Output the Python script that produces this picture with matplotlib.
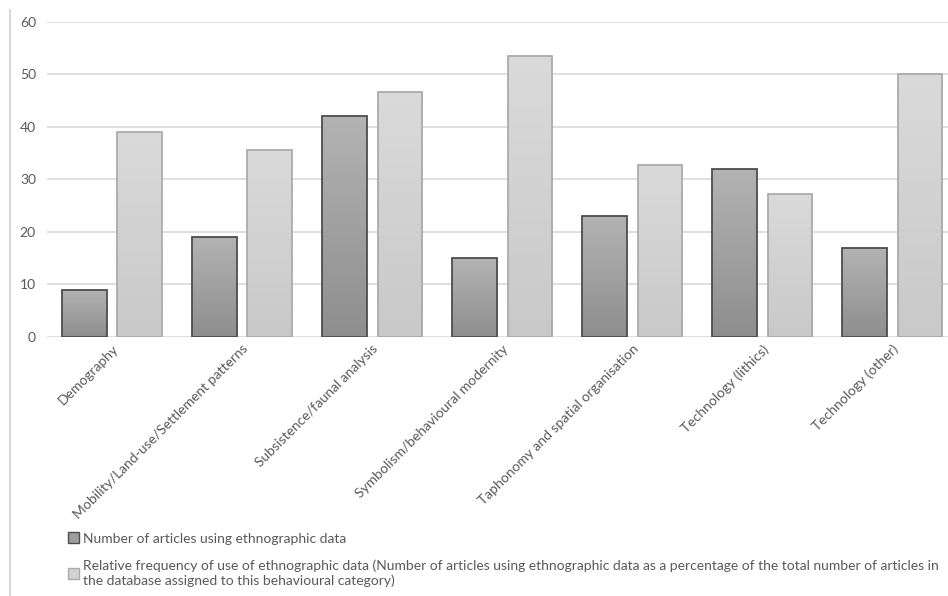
import numpy as np
import matplotlib.pyplot as plt
from matplotlib.patches import Patch
from matplotlib.lines import Line2D
from matplotlib.colors import LinearSegmentedColormap

plt.rcParams['font.family'] = ['Lato', 'DejaVu Sans']

categories = ["Demography", "Mobility/Land-use/Settlement patterns",
              "Subsistence/faunal analysis", "Symbolism/behavioural modernity",
              "Taphonomy and spatial organisation", "Technology (lithics)",
              "Technology (other)"]
n_articles = [9, 19, 42, 15, 23, 32, 17]
rel_freq = [39.0, 35.7, 46.7, 53.5, 32.8, 27.2, 50.0]

labels = ["Number of articles using ethnographic data",
          "Relative frequency of use of ethnographic data (Number of articles using ethnographic data as a percentage of the total number of articles in\n"
          "the database assigned to this behavioural category)"]

txt = "#595959"
fs = 10
fig = plt.figure(figsize=(9.48, 5.96), dpi=100)
ax = fig.add_axes([0.0496, 0.4346, 0.9504, 0.5285])

x = np.arange(len(categories))
w = 0.34
off = 0.212

dark_cm = LinearSegmentedColormap.from_list("d", ["#8e8e8e", "#b3b3b3"])
light_cm = LinearSegmentedColormap.from_list("l", ["#c9c9c9", "#dadada"])


def gradient_bars(xs, vals, cmap, edge):
    # outline bars, then fill each with a vertical gradient clipped to it
    bars = ax.bar(xs, vals, w, facecolor="none", edgecolor=edge, linewidth=1.3, zorder=3)
    grad = np.linspace(0, 1, 256).reshape(-1, 1)
    for b in bars:
        x0, y0 = b.get_x(), b.get_y()
        im = ax.imshow(grad, cmap=cmap, origin="lower", aspect="auto",
                       extent=[x0, x0 + b.get_width(), y0, y0 + b.get_height()], zorder=2)
        im.set_clip_path(b)
    return bars


gradient_bars(x - off, n_articles, dark_cm, "#4d4d4d")
gradient_bars(x + off, rel_freq, light_cm, "#ababab")

ax.set_xlim(-0.5, 6.43)
ax.set_ylim(0, 60)
ax.set_yticks(range(0, 61, 10))
ax.yaxis.grid(True, color="#d9d9d9", linewidth=1.2, zorder=0)
ax.set_axisbelow(True)
for s in ax.spines.values():
    s.set_visible(False)
ax.tick_params(length=0, colors=txt, labelsize=fs)
ax.tick_params(axis="y", pad=8)
ax.tick_params(axis="x", pad=4)
ax.set_xticks(x)
ax.set_xticklabels(categories, rotation=45, ha="right", rotation_mode="anchor", fontsize=fs, color=txt)

# chart frame edge on the left
fig.add_artist(Line2D([0.0105, 0.0105], [0, 0.983], color="#d0d0d0", linewidth=1.2))

handles = [Patch(facecolor="#9e9e9e", edgecolor="#4d4d4d"),
           Patch(facecolor="#d2d2d2", edgecolor="#ababab")]
fig.legend(handles, labels, loc="upper left", bbox_to_anchor=(0.066, 0.116),
           frameon=False, fontsize=fs, labelcolor=txt, handlelength=0.8,
           handleheight=0.8, handletextpad=0.3, labelspacing=1.1, borderaxespad=0)

fig.savefig("out.png", dpi=100)
